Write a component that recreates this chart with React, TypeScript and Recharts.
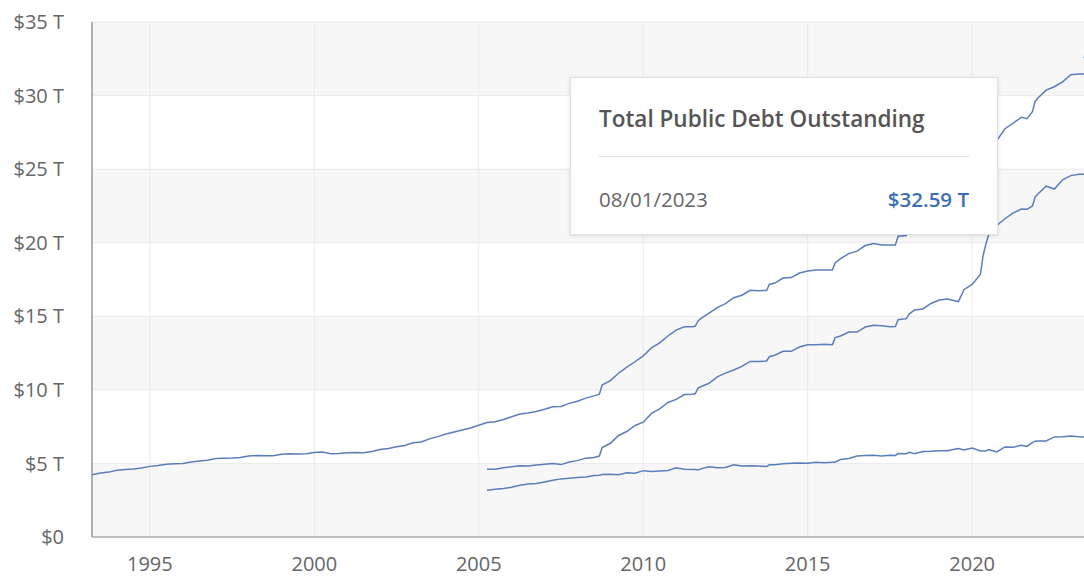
import React from 'react';
import { LineChart, Line, XAxis, YAxis, CartesianGrid, Tooltip } from 'recharts';

// first-of-month readings, trillions of dollars
const DATES = [
  '1993-04', '1993-07', '1993-10',
  '1994-01', '1994-04', '1994-07', '1994-10',
  '1995-01', '1995-04', '1995-07', '1995-10',
  '1996-01', '1996-04', '1996-07', '1996-10',
  '1997-01', '1997-04', '1997-07', '1997-10',
  '1998-01', '1998-04', '1998-07', '1998-10',
  '1999-01', '1999-04', '1999-07', '1999-10',
  '2000-01', '2000-04', '2000-07', '2000-10',
  '2001-01', '2001-04', '2001-07', '2001-10',
  '2002-01', '2002-04', '2002-07', '2002-10',
  '2003-01', '2003-04', '2003-07', '2003-10',
  '2004-01', '2004-04', '2004-07', '2004-10',
  '2005-01', '2005-04', '2005-07', '2005-10',
  '2006-01', '2006-04', '2006-07', '2006-10',
  '2007-01', '2007-04', '2007-07', '2007-10',
  '2008-01', '2008-04', '2008-07', '2008-09', '2008-10',
  '2009-01', '2009-04', '2009-07', '2009-10',
  '2010-01', '2010-04', '2010-07', '2010-10',
  '2011-01', '2011-04', '2011-07', '2011-08', '2011-09', '2011-10',
  '2012-01', '2012-04', '2012-07', '2012-10',
  '2013-01', '2013-04', '2013-07', '2013-10', '2013-11',
  '2014-01', '2014-04', '2014-07', '2014-10',
  '2015-01', '2015-04', '2015-07', '2015-10', '2015-11',
  '2016-01', '2016-04', '2016-07', '2016-10',
  '2017-01', '2017-04', '2017-07', '2017-09', '2017-10',
  '2018-01', '2018-02', '2018-04', '2018-07', '2018-10',
  '2019-01', '2019-04', '2019-07', '2019-08', '2019-10',
  '2020-01', '2020-04', '2020-05', '2020-06', '2020-07', '2020-10',
  '2021-01', '2021-04', '2021-07', '2021-09', '2021-11', '2021-12',
  '2022-01', '2022-04', '2022-07', '2022-10',
  '2023-01', '2023-04', '2023-06', '2023-07', '2023-08',
];

const TOTAL_DEBT = [
  4.23, 4.35, 4.41,
  4.54, 4.58, 4.62, 4.69,
  4.80, 4.86, 4.95, 4.97,
  4.99, 5.10, 5.16, 5.22,
  5.33, 5.35, 5.37, 5.41,
  5.50, 5.54, 5.53, 5.53,
  5.62, 5.65, 5.64, 5.66,
  5.75, 5.77, 5.66, 5.68,
  5.72, 5.74, 5.73, 5.81,
  5.94, 6.02, 6.13, 6.22,
  6.40, 6.46, 6.67, 6.82,
  7.00, 7.13, 7.27, 7.41,
  7.60, 7.78, 7.84, 7.98,
  8.17, 8.36, 8.42, 8.53,
  8.68, 8.85, 8.87, 9.08,
  9.23, 9.44, 9.59, 9.70, 10.33,
  10.63, 11.13, 11.54, 11.91,
  12.31, 12.86, 13.20, 13.66,
  14.06, 14.29, 14.29, 14.34, 14.68, 14.84,
  15.22, 15.59, 15.86, 16.26,
  16.43, 16.77, 16.74, 16.75, 17.16,
  17.26, 17.60, 17.63, 17.94,
  18.08, 18.15, 18.15, 18.15, 18.63,
  18.92, 19.26, 19.43, 19.81,
  19.95, 19.85, 19.84, 19.84, 20.44,
  20.49, 20.90, 21.09, 21.31, 21.70,
  21.98, 22.03, 22.02, 22.02, 22.72,
  23.22, 23.69, 24.97, 25.75, 26.47, 26.95,
  27.75, 28.13, 28.53, 28.43, 28.91, 29.62,
  29.84, 30.37, 30.60, 30.93,
  31.42, 31.46, 31.46, 32.24, 32.59,
];

// the two component series begin in April 2005
const SPLIT_START = '2005-04';

const PUBLIC_DEBT = [
  4.60, 4.60, 4.70,
  4.78, 4.84, 4.82, 4.89,
  4.94, 5.00, 4.92, 5.09,
  5.19, 5.36, 5.41, 5.50, 6.08,
  6.37, 6.90, 7.17, 7.58,
  7.80, 8.40, 8.71, 9.14,
  9.35, 9.68, 9.70, 9.75, 10.12, 10.21,
  10.45, 10.88, 11.14, 11.35,
  11.60, 11.93, 11.92, 11.96, 12.25,
  12.35, 12.62, 12.62, 12.91,
  13.07, 13.07, 13.10, 13.07, 13.55,
  13.66, 13.93, 13.93, 14.27,
  14.39, 14.35, 14.29, 14.30, 14.77,
  14.84, 15.15, 15.43, 15.50, 15.87,
  16.11, 16.17, 16.04, 16.00, 16.81,
  17.17, 17.84, 19.12, 19.90, 20.53, 21.17,
  21.63, 22.03, 22.29, 22.27, 22.50, 23.11,
  23.31, 23.84, 23.65, 24.28,
  24.56, 24.65, 24.66, 25.70, 25.77,
];

const INTRAGOV = [
  3.18, 3.24, 3.29,
  3.38, 3.52, 3.60, 3.64,
  3.74, 3.85, 3.95, 3.99,
  4.04, 4.08, 4.18, 4.20, 4.25,
  4.26, 4.23, 4.37, 4.33,
  4.51, 4.46, 4.49, 4.52,
  4.71, 4.61, 4.59, 4.59, 4.56, 4.63,
  4.77, 4.71, 4.72, 4.91,
  4.83, 4.84, 4.82, 4.79, 4.91,
  4.91, 4.98, 5.01, 5.03,
  5.01, 5.08, 5.05, 5.08, 5.08,
  5.26, 5.33, 5.50, 5.54,
  5.56, 5.50, 5.55, 5.54, 5.67,
  5.65, 5.75, 5.66, 5.81, 5.83,
  5.87, 5.86, 5.98, 6.02, 5.91,
  6.05, 5.85, 5.85, 5.85, 5.94, 5.78,
  6.12, 6.10, 6.24, 6.16, 6.41, 6.51,
  6.53, 6.53, 6.80, 6.82,
  6.86, 6.81, 6.80, 6.54, 6.82,
];

const YEAR_TICKS = [1995, 2000, 2005, 2010, 2015, 2020];
const DEBT_TICKS = [0, 5, 10, 15, 20, 25, 30, 35];

const LINE_COLOR = '#5b7dba';

const toYear = (d: string) => {
  const [y, m] = d.split('-').map(Number);
  return y + (m - 1) / 12;
};

const splitAt = DATES.indexOf(SPLIT_START);

const data = DATES.map((d, i) => ({
  date: d,
  t: toYear(d),
  total: TOTAL_DEBT[i],
  held: i >= splitAt ? PUBLIC_DEBT[i - splitAt] : null,
  intra: i >= splitAt ? INTRAGOV[i - splitAt] : null,
}));

const fmtDebt = (v: number) => (v === 0 ? '$0' : `$${v} T`);

function DebtTooltip({ payload }: any) {
  const last = data[data.length - 1];
  const item = payload && payload.find((p: any) => p.dataKey === 'total');
  const row = item ? item.payload : last;
  const [y, m] = row.date.split('-');
  return (
    <div
      style={{
        width: 428,
        height: 158,
        boxSizing: 'border-box',
        background: '#fff',
        border: '1px solid #e2e2e2',
        boxShadow: '0 1px 4px rgba(0,0,0,0.12)',
        padding: '0 28px',
        fontFamily: '"Open Sans", sans-serif',
      }}
    >
      <div style={{ fontSize: 22.5, fontWeight: 600, color: '#555', paddingTop: 26, lineHeight: '30px', whiteSpace: 'nowrap' }}>
        Total Public Debt Outstanding
      </div>
      <div style={{ borderTop: '1px solid #dedede', marginTop: 22 }} />
      <div style={{ display: 'flex', justifyContent: 'space-between', marginTop: 29, fontSize: 20.5, lineHeight: '26px' }}>
        <span style={{ color: '#666' }}>{`${m}/01/${y}`}</span>
        <span style={{ color: '#3c6fb4', fontWeight: 600 }}>{`$${row.total.toFixed(2)} T`}</span>
      </div>
    </div>
  );
}

export default function App() {
  return (
    <div
      style={{
        position: 'fixed',
        left: 0,
        top: 0,
        width: 1084,
        height: 577,
        overflow: 'hidden',
        background: '#fff',
        fontFamily: '"Open Sans", sans-serif',
      }}
    >
      <LineChart width={1100} height={577} data={data} margin={{ top: 22, right: 10, bottom: 0, left: 0 }}>
        <CartesianGrid stroke="#ebebeb" horizontalFill={['#f7f7f7', '#ffffff']} />
        <XAxis
          dataKey="t"
          type="number"
          domain={[1993.24, 2023.583]}
          ticks={YEAR_TICKS}
          height={40}
          tickLine={false}
          tickSize={0}
          tickMargin={20}
          axisLine={{ stroke: '#8a8a8a' }}
          tick={{ fill: '#666', fontSize: 20 }}
        />
        <YAxis
          domain={[0, 35]}
          ticks={DEBT_TICKS}
          width={92}
          tickLine={false}
          tickSize={0}
          tickMargin={28}
          axisLine={{ stroke: '#6e6e6e' }}
          tick={{ fill: '#666', fontSize: 20 }}
          tickFormatter={fmtDebt}
        />
        <Tooltip
          active
          defaultIndex={data.length - 1}
          position={{ x: 570, y: 77 }}
          cursor={false}
          content={<DebtTooltip />}
          isAnimationActive={false}
        />
        <Line
          dataKey="intra"
          type="linear"
          stroke={LINE_COLOR}
          strokeWidth={1.5}
          dot={false}
          activeDot={false}
          isAnimationActive={false}
        />
        <Line
          dataKey="held"
          type="linear"
          stroke={LINE_COLOR}
          strokeWidth={1.5}
          dot={false}
          activeDot={false}
          isAnimationActive={false}
        />
        <Line
          dataKey="total"
          type="linear"
          stroke={LINE_COLOR}
          strokeWidth={1.5}
          dot={false}
          activeDot={{ r: 7, fill: '#3d8fd8', stroke: '#fff', strokeWidth: 1 }}
          isAnimationActive={false}
        />
      </LineChart>
    </div>
  );
}
